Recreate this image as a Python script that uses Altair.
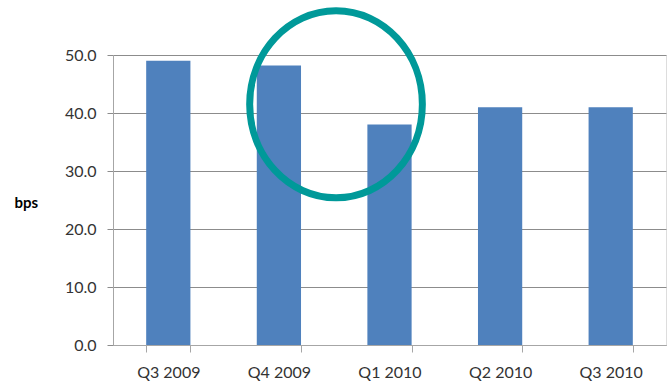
import altair as alt
import pandas as pd

quarters = ["Q3 2009", "Q4 2009", "Q1 2010", "Q2 2010", "Q3 2010"]
bps_values = [49.0, 48.2, 38.0, 41.0, 41.0]

# annotation ellipse: drawn between Q4 2009 and Q1 2010, centred at ~41.5 bps
circle_category = ["Q4 2009"]
circle_value = [41.5]

bars_df = pd.DataFrame({"quarter": quarters, "bps": bps_values})
circle_df = pd.DataFrame({"quarter": circle_category, "bps": circle_value})

FONT = "Lato"

x_scale = alt.Scale(domain=quarters, paddingInner=0.6, paddingOuter=0.3)
y_scale = alt.Scale(domain=[0, 50], nice=False)

bars = alt.Chart(bars_df).mark_bar(color="#4F81BD").encode(
    x=alt.X("quarter:N", scale=x_scale, sort=quarters,
            axis=alt.Axis(title=None, labelAngle=0, tickBand="extent",
                          tickSize=7, tickColor="#a6a6a6", domainColor="#a6a6a6",
                          labelFont=FONT, labelFontSize=16, labelColor="#333333",
                          labelPadding=12, grid=False)),
    y=alt.Y("bps:Q", scale=y_scale,
            axis=alt.Axis(title="bps", titleAngle=0, titleAlign="left",
                          titleBaseline="middle", titleX=-99, titleY=147,
                          titleFont=FONT, titleFontSize=15, titleFontWeight="bold",
                          titleColor="#000000",
                          values=[0, 10, 20, 30, 40, 50], format=".1f",
                          tickSize=6, tickColor="#8c8c8c", domainColor="#a6a6a6",
                          gridColor="#8c8c8c", grid=True,
                          labelFont=FONT, labelFontSize=16, labelColor="#333333",
                          labelPadding=11)),
)

ellipse_path = "M -0.9235 0 A 0.9235 1 0 1 0 0.9235 0 A 0.9235 1 0 1 0 -0.9235 0 Z"

circle = alt.Chart(circle_df).mark_point(
    shape=ellipse_path, filled=False, stroke="#009999", strokeWidth=7,
    size=34969, opacity=1, clip=False, xOffset=35
).encode(
    x=alt.X("quarter:N", scale=x_scale, sort=quarters, bandPosition=1),
    y=alt.Y("bps:Q", scale=y_scale),
)

chart = alt.layer(bars, circle).properties(
    width=553, height=290,
    padding={"left": 113, "top": 55, "right": 5, "bottom": 40},
    autosize=alt.AutoSizeParams(type="none"),
).configure_view(stroke=None).configure(background="white")

chart.save("out.html", embed_options={"renderer": "svg", "actions": False})
